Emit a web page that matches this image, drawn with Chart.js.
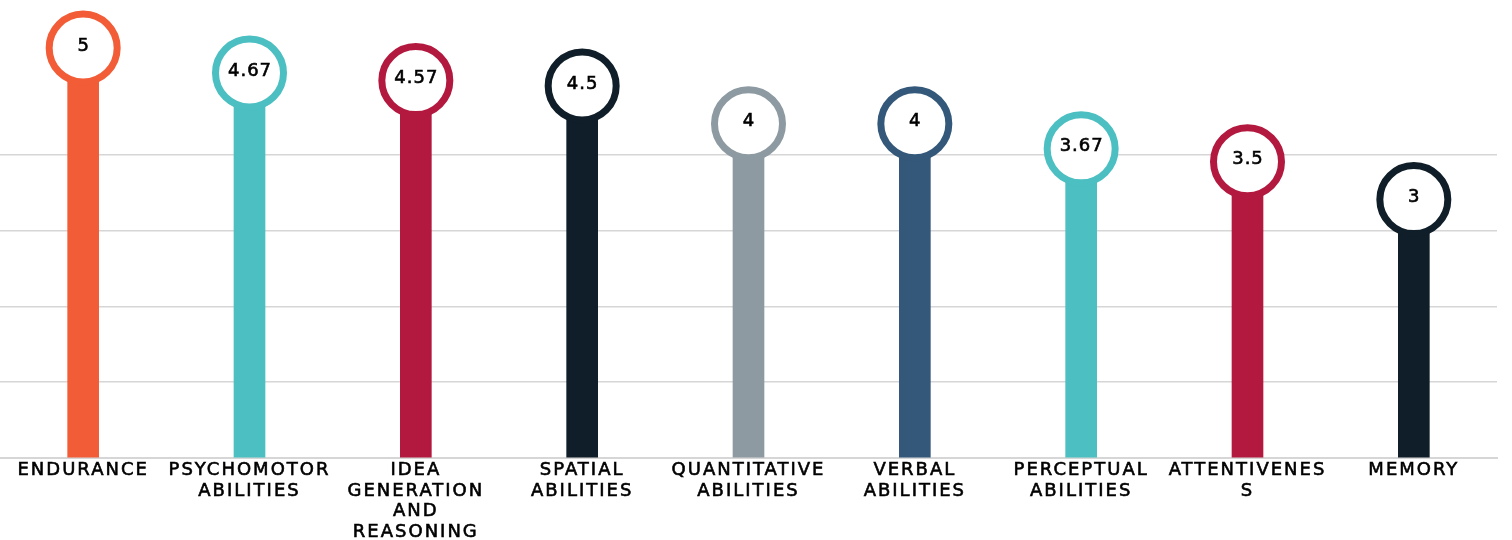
<!DOCTYPE html>
<html>
<head>
<meta charset="utf-8">
<script src="https://cdn.jsdelivr.net/npm/chart.js@4"></script>
<style>
  html, body { margin: 0; padding: 0; background: #ffffff; }
  #wrap { width: 1512px; height: 540px; }
</style>
</head>
<body>
<div id="wrap"><canvas id="skills-chart"></canvas></div>
<script>
// Ability categories (wrapped the same way as the original labels)
const categories = [
    ['ENDURANCE'],
    ['PSYCHOMOTOR', 'ABILITIES'],
    ['IDEA', 'GENERATION', 'AND', 'REASONING'],
    ['SPATIAL', 'ABILITIES'],
    ['QUANTITATIVE', 'ABILITIES'],
    ['VERBAL', 'ABILITIES'],
    ['PERCEPTUAL', 'ABILITIES'],
    ['ATTENTIVENES', 'S'],
    ['MEMORY']
];
const scores = [5, 4.67, 4.57, 4.5, 4, 4, 3.67, 3.5, 3];
const scoreLabels = ['5', '4.67', '4.57', '4.5', '4', '4', '3.67', '3.5', '3'];
const barColors = ['#F25C36', '#4BBFC1', '#B3193F', '#0F1E28', '#8D9AA2', '#33587A', '#4BBFC1', '#B3193F', '#0F1E28'];

const labelFont = '"DejaVu Sans", sans-serif';

// wider letter spacing, closer to the original display font
const spacing = {
    id: 'spacing',
    beforeDraw(chart) { chart.ctx.letterSpacing = '2px'; },
    afterDraw(chart) { chart.ctx.letterSpacing = '0px'; }
};

// draws the ring + value on top of each bar
const lollipopHeads = {
    id: 'lollipopHeads',
    afterDatasetsDraw(chart) {
        const ctx = chart.ctx;
        const meta = chart.getDatasetMeta(0);
        ctx.save();
        ctx.letterSpacing = '1px';
        meta.data.forEach((bar, i) => {
            const cx = bar.x;
            const cy = bar.y - 31;
            ctx.beginPath();
            ctx.arc(cx, cy, 34, 0, Math.PI * 2);
            ctx.fillStyle = '#ffffff';
            ctx.fill();
            ctx.lineWidth = 7;
            ctx.strokeStyle = barColors[i];
            ctx.stroke();
            ctx.fillStyle = '#000000';
            ctx.strokeStyle = '#000000';
            ctx.lineWidth = 0.6;
            ctx.font = '18px ' + labelFont;
            ctx.textAlign = 'center';
            ctx.textBaseline = 'middle';
            ctx.fillText(scoreLabels[i], cx + 0.5, cy - 2);
            ctx.strokeText(scoreLabels[i], cx + 0.5, cy - 2);
        });
        ctx.restore();
    }
};

const ctx = document.getElementById('skills-chart').getContext('2d');
new Chart(ctx, {
    type: 'bar',
    data: {
        labels: categories,
        datasets: [{
            data: scores,
            backgroundColor: barColors,
            borderWidth: 0,
            barThickness: 31
        }]
    },
    options: {
        responsive: true,
        maintainAspectRatio: false,
        animation: false,
        layout: { padding: { top: 79, left: 0, right: 15, bottom: 0 } },
        plugins: {
            legend: { display: false },
            tooltip: { enabled: false }
        },
        scales: {
            x: {
                grid: { display: false, drawTicks: false },
                border: { color: '#d6d6d6', width: 2 },
                afterFit: scale => { scale.height = 82; },
                ticks: {
                    color: '#000000',
                    textStrokeColor: '#000000',
                    textStrokeWidth: 0.6,
                    font: { family: labelFont, size: 18, lineHeight: 1.15 },
                    maxRotation: 0,
                    autoSkip: false,
                    padding: 2
                }
            },
            y: {
                min: 0,
                max: 5,
                ticks: { display: false, stepSize: 1 },
                border: { display: false },
                grid: {
                    color: c => (c.tick && (c.tick.value === 5 || c.tick.value === 0)) ? 'rgba(0,0,0,0)' : '#d6d6d6',
                    lineWidth: 1.5,
                    drawTicks: false
                }
            }
        }
    },
    plugins: [spacing, lollipopHeads]
});
</script>
</body>
</html>
